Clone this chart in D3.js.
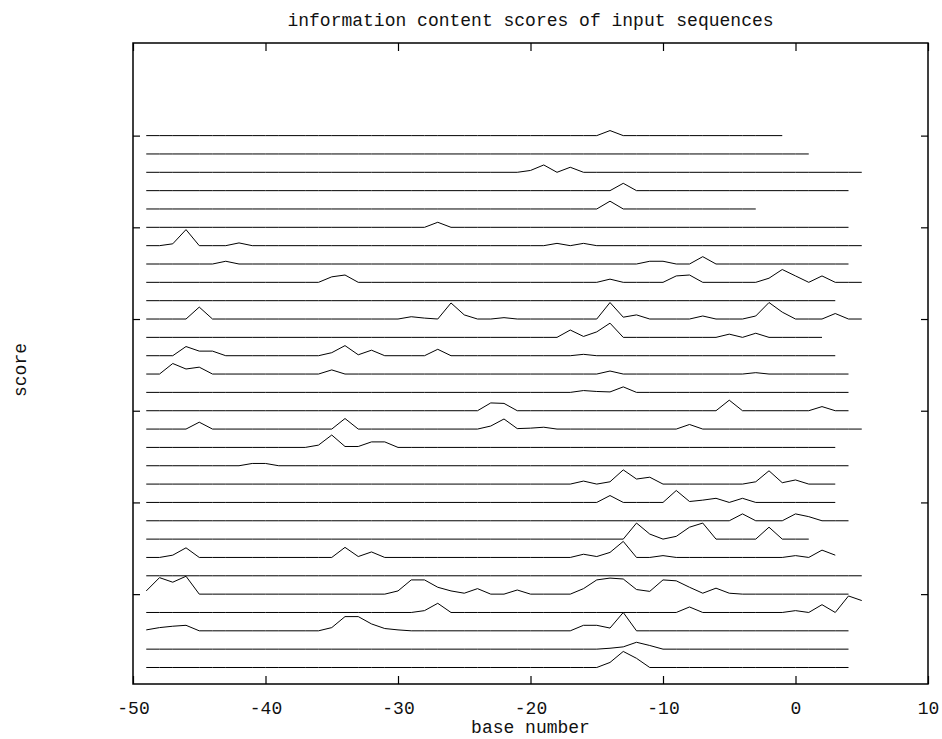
<!DOCTYPE html>
<html><head><meta charset="utf-8">
<script src="https://cdn.jsdelivr.net/npm/d3@7"></script>
<style>
body{margin:0;background:#fff}
text{font-family:"Liberation Mono","DejaVu Sans Mono",monospace;fill:#111}
</style>
</head><body>
<svg id="chart" width="942" height="739"></svg>
<script>
const titleText = "information content scores of input sequences";
const xLabelText = "base number";
const yLabelText = "score";
const xTickValues = [-50, -40, -30, -20, -10, 0, 10];
const yTickValues = [8, 18, 28, 38, 48, 58];
const firstBase = -49;
const offsetStep = 2;

// scores per base, starting at base -49 (one array per input sequence, top to bottom)
const seq00 = [0,0,0,0,0,0,0,0,0,0, 0,0,0,0,0,0,0,0,0,0, 0,0,0,0,0,0,0,0,0,0, 0,0,0,0,0,.55,0,0,0,0, 0,0,0,0,0,0,0,0,0];
const seq01 = [0,0,0,0,0,0,0,0,0,0, 0,0,0,0,0,0,0,0,0,0, 0,0,0,0,0,0,0,0,0,0, 0,0,0,0,0,0,0,0,0,0, 0,0,0,0,0,0,0,0,0,0, 0];
const seq02 = [0,0,0,0,0,0,0,0,0,0, 0,0,0,0,0,0,0,0,0,0, 0,0,0,0,0,0,0,0,0,.2, .8,0,.55,0,0,0,0,0,0,0, 0,0,0,0,0,0,0,0,0,0, 0,0,0,0,0];
const seq03 = [0,0,0,0,0,0,0,0,0,0, 0,0,0,0,0,0,0,0,0,0, 0,0,0,0,0,0,0,0,0,0, 0,0,0,0,0,0,.8,0,0,0, 0,0,0,0,0,0,0,0,0,0, 0,0,0,0];
const seq04 = [0,0,0,0,0,0,0,0,0,0, 0,0,0,0,0,0,0,0,0,0, 0,0,0,0,0,0,0,0,0,0, 0,0,0,0,0,.85,0,0,0,0, 0,0,0,0,0,0,0];
const seq05 = [0,0,0,0,0,0,0,0,0,0, 0,0,0,0,0,0,0,0,0,0, 0,0,.55,0,0,0,0,0,0,0, 0,0,0,0,0,0,0,0,0,0, 0,0,0,0,0,0,0,0,0,0, 0,0,0,0];
const seq06 = [0,0,.2,1.75,0,0,0,.3,0,0, 0,0,0,0,0,0,0,0,0,0, 0,0,0,0,0,0,0,0,0,0, 0,.25,0,.25,0,0,0,0,0,0, 0,0,0,0,0,0,0,0,0,0, 0,0,0,0,0];
const seq07 = [0,0,0,0,0,0,.3,0,0,0, 0,0,0,0,0,0,0,0,0,0, 0,0,0,0,0,0,0,0,0,0, 0,0,0,0,0,0,0,0,.3,.3, 0,0,.8,0,0,0,0,0,0,0, 0,0,0,0];
const seq08 = [0,0,0,0,0,0,0,0,0,0, 0,0,0,0,.6,.8,0,0,0,0, 0,0,0,0,0,0,0,0,0,0, 0,0,0,0,0,.35,0,0,0,0, .7,.8,0,0,0,0,0,.45,1.4,.7, 0,.7,0,0,0];
const seq09 = [0,0,0,0,0,0,0,0,0,0, 0,0,0,0,0,0,0,0,0,0, 0,0,0,0,0,0,0,0,0,0, 0,0,0,0,0,0,0,0,0,0, 0,0,0,0,0,0,0,0,0,0, 0,0,0];
const seq10 = [0,0,0,0,1.3,0,0,0,0,0, 0,0,0,0,0,0,0,0,0,0, .25,.1,0,1.75,.45,0,0,.15,0,0, 0,0,0,0,0,1.8,.2,.45,0,0, 0,0,.33,0,0,0,.33,1.8,.75,0, 0,0,.6,0,0];
const seq11 = [0,0,0,0,0,0,0,0,0,0, 0,0,0,0,0,0,0,0,0,0, 0,0,0,0,0,0,0,0,0,0, 0,0,.8,.1,.6,1.55,0,0,0,0, 0,0,0,0,.35,0,.45,0,0,0, 0,0];
const seq12 = [0,0,0,1,.5,.5,0,0,0,0, 0,0,0,0,.33,1.1,.1,.6,0,0, 0,0,.7,0,0,0,0,0,0,0, 0,0,0,.15,0,0,0,0,0,0, 0,0,0,0,0,0,0,0,0,0, 0,0,0];
const seq13 = [0,0,1.15,.55,.75,0,0,0,0,0, 0,0,0,0,.45,0,0,0,0,0, 0,0,0,0,0,0,0,0,0,0, 0,0,0,0,0,.33,0,0,0,0, 0,0,0,0,0,0,.15,0,0,0, 0,0,0,0];
const seq14 = [0,0,0,0,0,0,0,0,0,0, 0,0,0,0,0,0,0,0,0,0, 0,0,0,0,0,0,0,0,0,0, 0,0,0,.2,.1,.05,.6,0,0,0, 0,0,0,0,0,0,0,0,0,0, 0,0,0,0];
const seq15 = [0,0,0,0,0,0,0,0,0,0, 0,0,0,0,0,0,0,0,0,0, 0,0,0,0,0,0,.85,.8,0,0, 0,0,0,0,0,0,0,0,0,0, 0,0,0,0,1.15,0,0,0,0,0, 0,.45,0,0];
const seq16 = [0,0,0,0,.75,0,0,0,0,0, 0,0,0,0,0,1.15,0,0,0,0, 0,0,0,0,0,0,.33,1.1,.05,.1, .2,0,0,0,0,0,0,0,0,0, 0,.5,0,0,0,0,0,0,0,0, 0,0,0,0,0];
const seq17 = [0,0,0,0,0,0,0,0,0,0, 0,0,0,.25,1.35,.1,.1,.6,.6,0, 0,0,0,0,0,0,0,0,0,0, 0,0,0,0,0,0,0,0,0,0, 0,0,0,0,0,0,0,0,0,0, 0,0,0];
const seq18 = [0,0,0,0,0,0,0,0,.25,.25, 0,0,0,0,0,0,0,0,0,0, 0,0,0,0,0,0,0,0,0,0, 0,0,0,0,0,0,0,0,0,0, 0,0,0,0,0,0,0,0,0,0, 0,0,0,0];
const seq19 = [0,0,0,0,0,0,0,0,0,0, 0,0,0,0,0,0,0,0,0,0, 0,0,0,0,0,0,0,0,0,0, 0,0,0,.33,0,.25,1.55,.55,.75,0, 0,0,0,0,0,0,.25,1.45,.15,.45, 0,0,0];
const seq20 = [0,0,0,0,0,0,0,0,0,0, 0,0,0,0,0,0,0,0,0,0, 0,0,0,0,0,0,0,0,0,0, 0,0,0,0,0,.75,0,0,0,0, 1.3,.1,.25,.45,0,.45,0,0,0,0, 0,0,0];
const seq21 = [0,0,0,0,0,0,0,0,0,0, 0,0,0,0,0,0,0,0,0,0, 0,0,0,0,0,0,0,0,0,0, 0,0,0,0,0,0,0,0,0,0, 0,0,0,0,0,.75,0,0,0,.75, .45,0,0,0];
const seq22 = [0,0,0,0,0,0,0,0,0,0, 0,0,0,0,0,0,0,0,0,0, 0,0,0,0,0,0,0,0,0,0, 0,0,0,0,0,0,0,1.75,.55,0, .3,1.3,1.75,0,0,0,0,1.3,0,0, 0];
const seq23 = [0,0,.25,1.05,0,0,0,0,0,0, 0,0,0,0,0,1.1,.1,.6,0,0, 0,0,0,0,0,0,0,0,0,0, 0,0,0,.35,.1,.55,1.75,0,0,.2, 0,0,0,0,0,0,0,0,0,.2, 0,.8,.25];
const seq24 = [0,0,0,0,0,0,0,0,0,0, 0,0,0,0,0,0,0,0,0,0, 0,0,0,0,0,0,0,0,0,0, 0,0,0,0,0,0,0,0,0,0, 0,0,0,0,0,0,0,0,0,0, 0,0,0,0,0];
const seq25 = [.35,1.8,1.3,1.95,0,0,0,0,0,0, 0,0,0,0,0,0,0,0,0,.35, 1.55,1.55,.75,.35,.1,.6,0,0,.45,0, 0,0,0,.6,1.55,1.75,1.65,.5,.3,1.55, 1.45,.75,.1,.65,.1,0,0,0,0,0, 0,0,0,0];
const seq26 = [0,0,0,0,0,0,0,0,0,0, 0,0,0,0,0,0,0,0,0,0, 0,.2,1,0,0,0,0,0,0,0, 0,0,0,0,0,0,0,0,0,0, 0,.6,0,0,0,0,0,0,0,.2, 0,.85,0,1.8,1.3];
const seq27 = [.1,.35,.5,.6,0,0,0,0,0,0, 0,0,0,0,.35,1.55,1.55,.75,.25,.1, 0,0,0,0,0,0,0,0,0,0, 0,0,0,.6,.6,.3,2,0,0,0, 0,0,0,0,0,0,0,0,0,0, 0,0,0,0];
const seq28 = [0,0,0,0,0,0,0,0,0,0, 0,0,0,0,0,0,0,0,0,0, 0,0,0,0,0,0,0,0,0,0, 0,0,0,0,0,.1,.25,.75,.4,0, 0,0,0,0,0,0,0,0,0,0, 0,0,0,0];
const seq29 = [0,0,0,0,0,0,0,0,0,0, 0,0,0,0,0,0,0,0,0,0, 0,0,0,0,0,0,0,0,0,0, 0,0,0,0,0,.55,1.75,1,0,0, 0,0,0,0,0,0,0,0,0,0, 0,0,0,0];

const sequences = [seq00,seq01,seq02,seq03,seq04,seq05,seq06,seq07,seq08,seq09,
                   seq10,seq11,seq12,seq13,seq14,seq15,seq16,seq17,seq18,seq19,
                   seq20,seq21,seq22,seq23,seq24,seq25,seq26,seq27,seq28,seq29];

const svg = d3.select("#chart");
const L = 133, R = 928, T = 43, B = 684;
const x = d3.scaleLinear().domain([-50, 10]).range([L, R]);
const y = d3.scaleLinear().domain([-1.8, 68.1]).range([B, T]);

const n = sequences.length;
const line = d3.line().x(d => x(d[0])).y(d => y(d[1]));

const g = svg.append("g");
sequences.forEach((s, i) => {
  const off = (n - 1 - i) * offsetStep;
  const pts = s.map((v, j) => [firstBase + j, off + v]);
  g.append("path").attr("d", line(pts))
    .attr("fill", "none").attr("stroke", "#000").attr("stroke-width", 1);
});

// axes (ticks pointing inward)
const ax = (a) => a.tickSizeOuter(0);
svg.append("g").attr("transform", `translate(0,${B})`)
  .call(ax(d3.axisBottom(x).tickValues(xTickValues).tickSizeInner(-8).tickPadding(17).tickFormat(d => String(d))))
  .call(s => s.select(".domain").remove())
  .call(s => s.selectAll("text").attr("font-size", 18).attr("font-family", "Liberation Mono").attr("fill", "#111"));
svg.append("g").attr("transform", `translate(0,${T})`)
  .call(ax(d3.axisTop(x).tickValues(xTickValues).tickSizeInner(-8).tickFormat("")))
  .call(s => s.select(".domain").remove());
svg.append("g").attr("transform", `translate(${L},0)`)
  .call(ax(d3.axisLeft(y).tickValues(yTickValues).tickSizeInner(-7).tickFormat("")))
  .call(s => s.select(".domain").remove());
svg.append("g").attr("transform", `translate(${R},0)`)
  .call(ax(d3.axisRight(y).tickValues(yTickValues).tickSizeInner(-7).tickFormat("")))
  .call(s => s.select(".domain").remove());
svg.selectAll(".tick line").attr("stroke", "#000").attr("stroke-width", 1.2);

svg.append("rect").attr("x", L).attr("y", T).attr("width", R - L).attr("height", B - T)
  .attr("fill", "none").attr("stroke", "#000").attr("stroke-width", 1.5);

svg.append("text").attr("x", (L + R) / 2).attr("y", 26).attr("text-anchor", "middle")
  .attr("font-size", 18).text(titleText);
svg.append("text").attr("x", (L + R) / 2).attr("y", 733).attr("text-anchor", "middle")
  .attr("font-size", 18).text(xLabelText);
svg.append("text").attr("transform", "translate(26,370) rotate(-90)").attr("text-anchor", "middle")
  .attr("font-size", 18).text(yLabelText);
</script>
</body></html>
